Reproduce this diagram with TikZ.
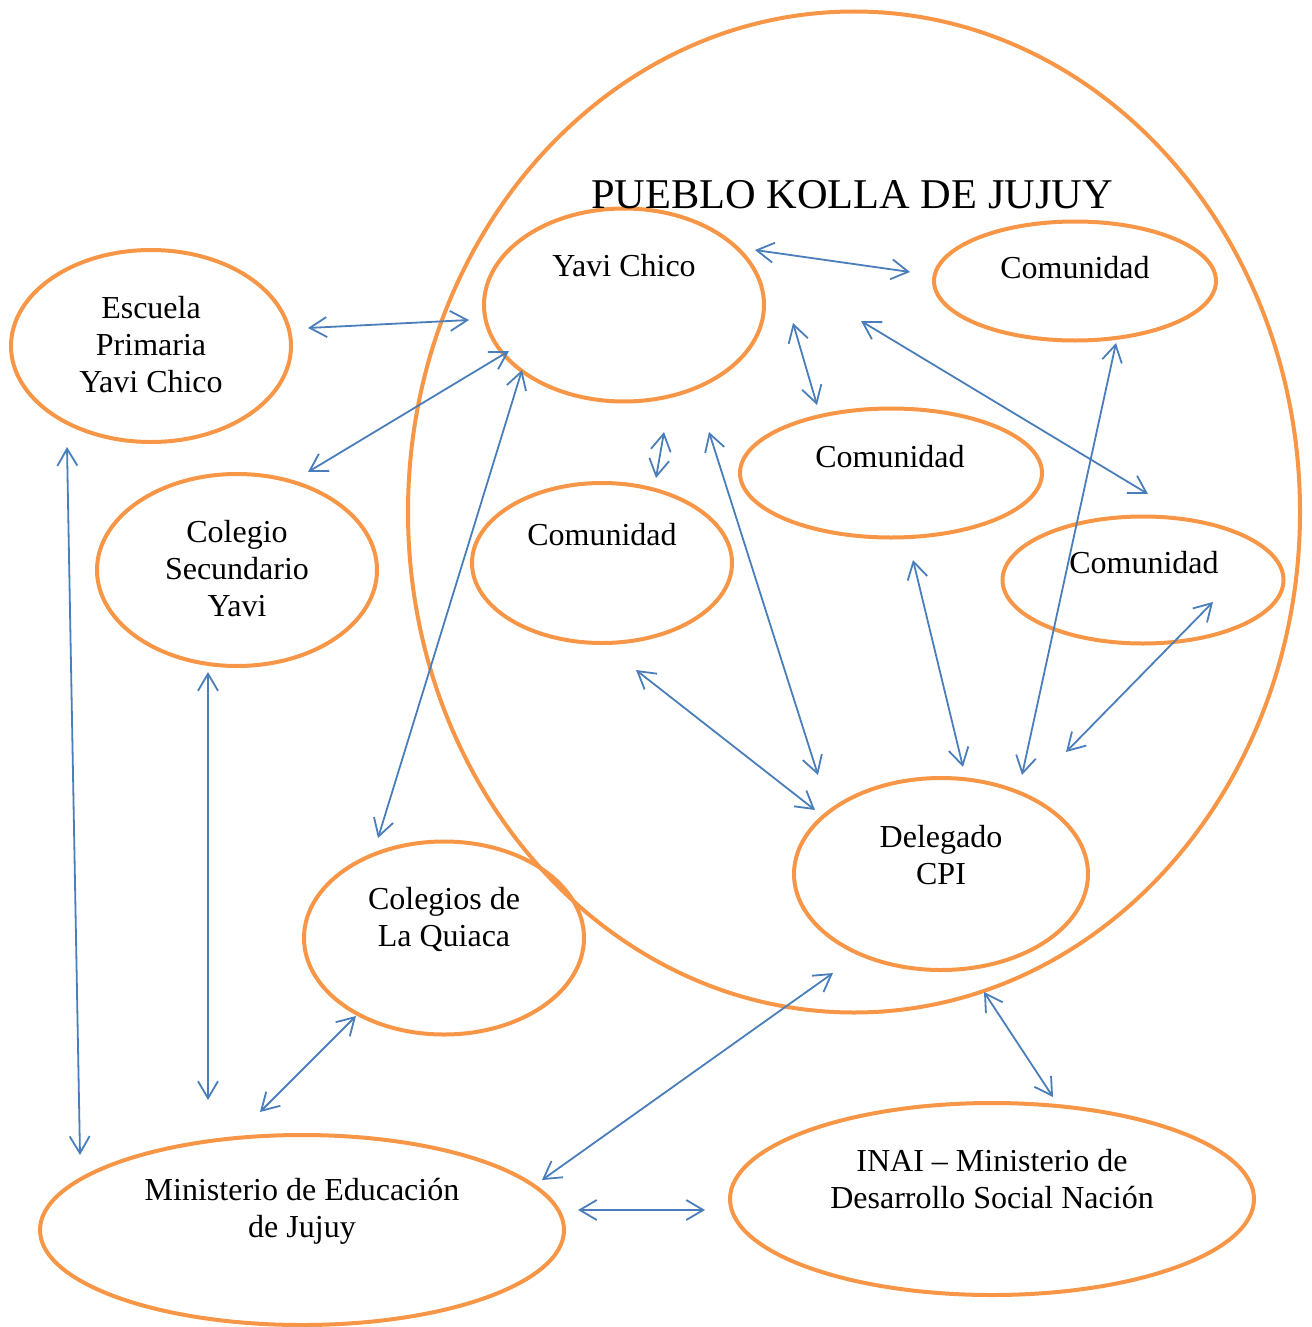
\documentclass[tikz,border=0pt]{standalone}
\usepackage{fontspec}
\setmainfont{Liberation Serif}
\usetikzlibrary{shapes.geometric,arrows.meta}
\definecolor{orng}{HTML}{F79646}
\definecolor{blu}{HTML}{4A7EBB}
\begin{document}
\begin{tikzpicture}[x=0.5pt,y=-0.5pt,
 oval/.style={ellipse,draw=orng,line width=2pt,inner sep=0pt,outer sep=0pt},
 lbl/.style={align=center,font=\fontsize{16}{18.5}\selectfont,inner sep=0pt},
 link/.style={draw=blu,line width=0.9pt,{Straight Barb[length=8.5pt,width=10pt]}-{Straight Barb[length=8.5pt,width=10pt]}}]
\useasboundingbox (0,0) rectangle (1311,1327);
% ellipses
\node[oval,minimum width=446pt,minimum height=500.5pt] (pueblo) at (854,512) {};
\node[oval,minimum width=140pt,minimum height=96.5pt] (yavi) at (624,305) {};
\node[oval,minimum width=141pt,minimum height=59.5pt] (comA) at (1075,281) {};
\node[oval,minimum width=151pt,minimum height=64.5pt] (comB) at (891,473) {};
\node[oval,minimum width=130pt,minimum height=80pt] (comC) at (602,563) {};
\node[oval,minimum width=140.5pt,minimum height=63.5pt] (comD) at (1143,580) {};
\node[oval,minimum width=147pt,minimum height=96pt] (dele) at (941,874) {};
\node[oval,minimum width=140pt,minimum height=96pt] (escu) at (151,346) {};
\node[oval,minimum width=140pt,minimum height=96pt] (cole) at (237,570) {};
\node[oval,minimum width=140pt,minimum height=96.5pt] (quia) at (444,938) {};
\node[oval,minimum width=262pt,minimum height=95pt] (mine) at (302,1230) {};
\node[oval,minimum width=262pt,minimum height=96pt] (inai) at (992,1199) {};
% labels
\node[lbl,font=\fontsize{21.2}{24}\selectfont] (tit) at (852,195) {PUEBLO KOLLA DE JUJUY};
\node[lbl] (yavi-t) at (624,266) {Yavi Chico};
\node[lbl] (comA-t) at (1075,268) {Comunidad};
\node[lbl] (comB-t) at (890,457) {Comunidad};
\node[lbl] (comC-t) at (602,535) {Comunidad};
\node[lbl] (comD-t) at (1144,563) {Comunidad};
\node[lbl] (dele-t) at (941,855) {Delegado\\CPI};
\node[lbl] (escu-t) at (151,345) {Escuela\\Primaria\\Yavi Chico};
\node[lbl] (cole-t) at (237,569) {Colegio\\Secundario\\Yavi};
\node[lbl] (quia-t) at (444,919) {Colegios de\\La Quiaca};
\node[lbl] (mine-t) at (302,1211) {Ministerio de Educación\\de Jujuy};
\node[lbl] (inai-t) at (992,1179) {INAI -- Ministerio de\\Desarrollo Social Nación};
% connector end points
\coordinate (e1) at (308,328); \coordinate (y1) at (469,320);
\coordinate (c1) at (308,472); \coordinate (y2) at (509,351);
\coordinate (q1) at (378,838); \coordinate (y3) at (522,370);
\coordinate (y4) at (755,250); \coordinate (a1) at (910,272);
\coordinate (y5) at (793,323); \coordinate (b1) at (817,405);
\coordinate (y6) at (664,432); \coordinate (cc1) at (656,478);
\coordinate (y7) at (861,321); \coordinate (d1) at (1148,494);
\coordinate (y8) at (709,432); \coordinate (g1) at (818,775);
\coordinate (cc2) at (636,670); \coordinate (g2) at (815,810);
\coordinate (b2) at (913,560); \coordinate (g3) at (963,767);
\coordinate (a2) at (1116,343); \coordinate (g4) at (1022,775);
\coordinate (d2) at (1213,602); \coordinate (g5) at (1066,752);
\coordinate (e2) at (67,447); \coordinate (m1) at (80,1155);
\coordinate (c2) at (208,672); \coordinate (m2) at (208,1100);
\coordinate (q2) at (356,1016); \coordinate (m3) at (260,1112);
\coordinate (g6) at (833,973); \coordinate (m4) at (542,1180);
\coordinate (m5) at (578,1210); \coordinate (i1) at (705,1210);
\coordinate (p1) at (984,992); \coordinate (i2) at (1053,1097);
% connectors
\draw[link] (e1) -- (y1);
\draw[link] (c1) -- (y2);
\draw[link] (q1) -- (y3);
\draw[link] (y4) -- (a1);
\draw[link] (y5) -- (b1);
\draw[link] (y6) -- (cc1);
\draw[link] (y7) -- (d1);
\draw[link] (y8) -- (g1);
\draw[link] (cc2) -- (g2);
\draw[link] (b2) -- (g3);
\draw[link] (a2) -- (g4);
\draw[link] (d2) -- (g5);
\draw[link] (e2) -- (m1);
\draw[link] (c2) -- (m2);
\draw[link] (q2) -- (m3);
\draw[link] (g6) -- (m4);
\draw[link] (m5) -- (i1);
\draw[link] (p1) -- (i2);
\end{tikzpicture}
\end{document}
